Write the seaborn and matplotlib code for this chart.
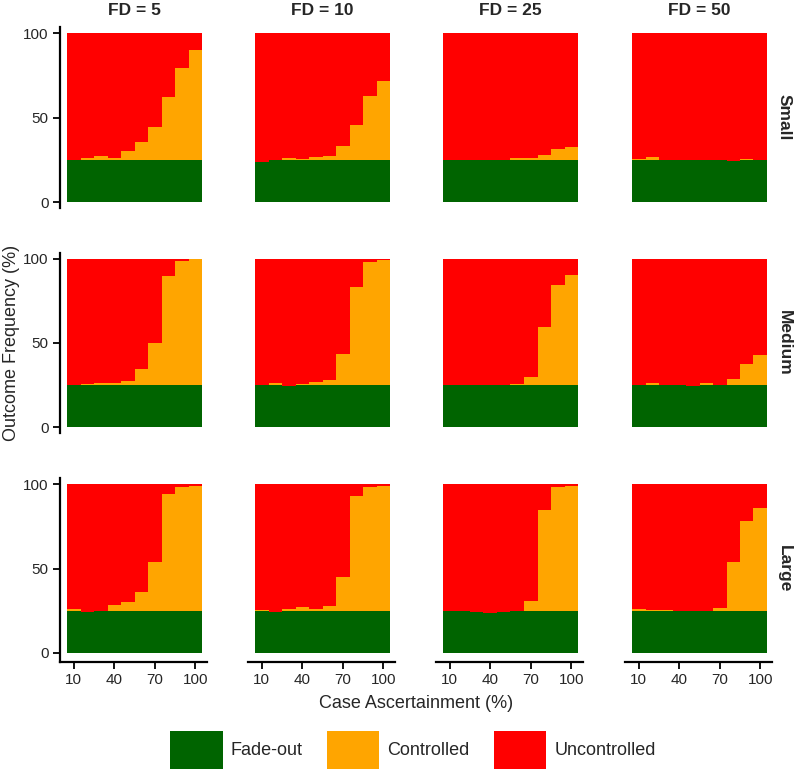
import numpy as np
import pandas as pd
import matplotlib
matplotlib.use("Agg")
import matplotlib.pyplot as plt
from matplotlib.patches import Patch
import seaborn as sns

sns.set_theme(style="white")
plt.rcParams["font.family"] = ["Liberation Sans", "DejaVu Sans"]

# case ascertainment (%) on x, one bar per level
ascert = [10, 20, 30, 40, 50, 60, 70, 80, 90, 100]
fd_levels = ["FD = 5", "FD = 10", "FD = 25", "FD = 50"]
sizes = ["Small", "Medium", "Large"]
outcomes = ["Fade-out", "Controlled", "Uncontrolled"]
colors = ["#006400", "#FFA500", "#FF0000"]

# outcome frequency (%), one list per FD level; uncontrolled = rest up to 100
fade_small = [
    [25, 25, 25, 25, 25, 25, 25, 25, 25, 25],
    [24, 24.8, 25, 25, 25, 25, 25, 25, 25, 25],
    [25, 25, 25, 25, 25, 25, 25, 25, 25, 25],
    [25, 25, 25, 25, 25, 25, 25, 24.2, 25, 25],
]
ctrl_small = [
    [0, 1, 2, 1, 5.3, 10.6, 19.4, 37, 54.6, 65],
    [0, 0, 1, 0.5, 1.5, 2, 8.3, 20.7, 38, 46.5],
    [0, 0, 0, 0, 0, 1, 1, 3, 6.5, 7.5],
    [0.5, 1.7, 0, 0, 0, 0, 0, 0, 0.5, 0],
]
fade_medium = [
    [25, 25, 25, 25, 25, 25, 25, 25, 25, 25],
    [24.8, 25, 24.5, 25, 25, 25, 25, 25, 25, 25],
    [25, 25, 25, 25, 25, 25, 25, 25, 25, 25],
    [25, 25, 25, 25, 24.5, 25, 25, 25, 25, 25],
]
ctrl_medium = [
    [0, 0.5, 1, 1.5, 2.5, 9.5, 25, 64.5, 73.5, 74.5],
    [0, 1, 0, 0.8, 1.6, 2.8, 18.5, 58, 72.8, 74],
    [0, 0, 0, 0, 0, 0.5, 5, 34.5, 59.5, 65.5],
    [0, 1, 0, 0, 0, 1.4, 0, 3.4, 12.5, 18],
]
fade_large = [
    [25, 24.5, 24.8, 25, 25, 25, 25, 25, 25, 25],
    [25, 24.4, 25, 25, 25, 25, 25, 25, 25, 25],
    [25, 24.8, 24.5, 24, 24.5, 25, 25, 25, 25, 25],
    [25, 25, 25, 25, 24.8, 25, 25, 25, 25, 25],
]
ctrl_large = [
    [1, 0, 0, 3.6, 5, 11, 29, 69, 73.5, 74],
    [0.6, 0, 1, 2, 1.2, 3, 20.2, 68.2, 73.5, 74],
    [0, 0, 0, 0, 0, 0, 5.6, 59.7, 73.3, 74],
    [1, 0.7, 0.3, 0, 0, 0, 1.7, 29, 53.5, 61.2],
]
fade_rows = [fade_small, fade_medium, fade_large]
ctrl_rows = [ctrl_small, ctrl_medium, ctrl_large]

W, H = 800, 780
fig = plt.figure(figsize=(W / 100, H / 100), dpi=100)

bar_left = [67, 255, 443, 632]       # px where the first bar starts
zero_px = [202, 427.3, 653]          # px of y = 0 per row
px_x = 1.35                          # px per x unit
px_y = 1.687                         # px per y unit
xlo, xhi = -0.5, 109
ylo, yhi = -5.3, 104

for r, size in enumerate(sizes):
    for c, fd in enumerate(fd_levels):
        left = bar_left[c] - (5 - xlo) * px_x
        width = (xhi - xlo) * px_x
        bottom = zero_px[r] - ylo * px_y
        height = (yhi - ylo) * px_y
        ax = fig.add_axes([left / W, 1 - bottom / H, width / W, height / H])

        df = pd.DataFrame({"ascert": ascert,
                           "fade": fade_rows[r][c],
                           "ctrl": ctrl_rows[r][c]})
        df["fade_ctrl"] = df.fade + df.ctrl
        df["total"] = 100

        for col, color in zip(["total", "fade_ctrl", "fade"], colors[::-1]):
            sns.barplot(data=df, x="ascert", y=col, native_scale=True, width=1,
                        color=color, saturation=1, errorbar=None, ax=ax,
                        linewidth=0, edgecolor="none", antialiased=False)

        ax.set_xlim(xlo, xhi)
        ax.set_ylim(ylo, yhi)
        ax.set_xlabel("")
        ax.set_ylabel("")
        for s in ["top", "right"]:
            ax.spines[s].set_visible(False)
        ax.spines["left"].set_visible(c == 0)
        ax.spines["bottom"].set_visible(r == 2)
        for s in ["left", "bottom"]:
            ax.spines[s].set_linewidth(1.6)
            ax.spines[s].set_color("black")
        if c == 0:
            ax.spines["left"].set_bounds(ylo if r == 2 else -3.5, 103.5)
            ax.set_yticks([0, 50, 100])
        else:
            ax.set_yticks([])
        if r == 2:
            ax.set_xticks([10, 40, 70, 100])
        else:
            ax.set_xticks([])
        ax.tick_params(axis="both", direction="out", length=5, width=1.3,
                       color="black", labelsize=11, pad=3,
                       left=(c == 0), bottom=(r == 2))

        if r == 0:
            ax.text(55, 113.5, fd, ha="center", va="center", fontsize=12.5,
                    fontweight="bold")
        if c == 3:
            ax.text(112, 50, size, ha="left", va="center", rotation=270,
                    fontsize=12.5, fontweight="bold")

fig.text(12 / W, 1 - 343 / H, "Outcome Frequency (%)", rotation=90,
         ha="center", va="center", fontsize=13)
fig.text(416 / W, 1 - 704 / H, "Case Ascertainment (%)",
         ha="center", va="center", fontsize=13)

handles = [Patch(facecolor=col, edgecolor="none") for col in colors]
fig.legend(handles, outcomes, loc="center", bbox_to_anchor=(413 / W, 1 - 750 / H),
           ncol=3, frameon=False, fontsize=13, handlelength=2.9,
           handleheight=2.9, handletextpad=0.45, columnspacing=1.33)

fig.savefig("out.png", dpi=100)
